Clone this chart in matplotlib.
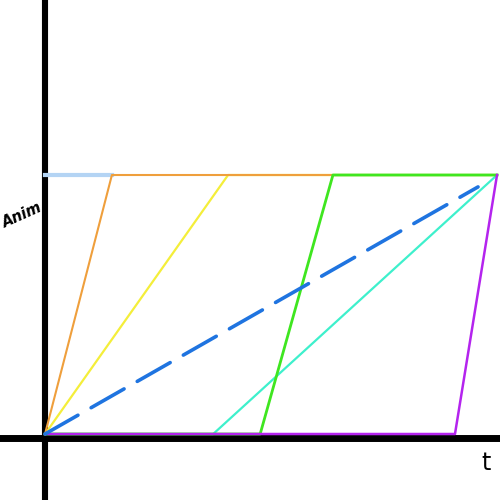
import matplotlib
matplotlib.use("Agg")
import matplotlib.pyplot as plt

# keyframe curves, time normalised 0..1, value 0..1
t_lightblue = [0, 0.148]
v_lightblue = [1, 1]

t_orange = [0, 0.148, 1]
v_orange = [0, 1, 1]

t_yellow = [0, 0.405, 1]
v_yellow = [0, 1, 1]

t_green = [0, 0.476, 0.637, 1]
v_green = [0, 0, 1, 1]

t_cyan = [0, 0.372, 1]
v_cyan = [0, 0, 1]

t_purple = [0, 0.907, 1]
v_purple = [0, 0, 1]

t_blue = [0, 0.958]
v_blue = [0, 0.954]

fig = plt.figure(figsize=(5, 5), dpi=100)
ax = fig.add_axes([0, 0, 1, 1])
ax.set_xlim(-0.0996, 1.0066)
ax.set_ylim(-0.2548, 1.6757)
ax.axis("off")

# hand drawn axes
ax.axvline(0.0, color="black", lw=4.4, zorder=1)
ax.axhline(-0.0135, color="black", lw=5.0, zorder=1)

ax.plot(t_lightblue, v_lightblue, color="#b4d4f4", lw=3.0, zorder=2)
ax.plot(t_yellow, v_yellow, color="#f4ee3a", lw=1.6, zorder=3)
ax.plot(t_orange, v_orange, color="#ef9f3c", lw=1.5, zorder=4)
ax.plot(t_cyan, v_cyan, color="#3ef0cc", lw=1.6, zorder=3)
ax.plot(t_green, v_green, color="#3fe620", lw=2.0, zorder=5)
ax.plot(t_purple, v_purple, color="#b424ee", lw=1.8, zorder=6)
ax.plot(t_blue, v_blue, color="#1f74e0", lw=2.6, zorder=7,
        dashes=(10.5, 4.2), dash_capstyle="round")

ax.text(0.045, 0.57, "Anim", transform=ax.transAxes, rotation=24,
        fontsize=10.5, fontstyle="italic", fontweight="semibold",
        family="DejaVu Sans", ha="center", va="center")
ax.text(0.973, 0.074, "t", transform=ax.transAxes, fontsize=17,
        family="DejaVu Sans", ha="center", va="center")

fig.savefig("out.png", dpi=100)
